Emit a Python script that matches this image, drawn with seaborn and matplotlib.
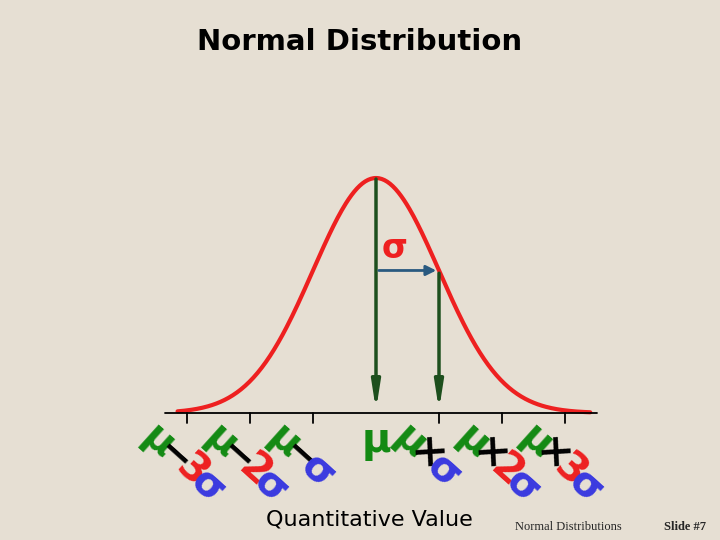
import numpy as np
import matplotlib.pyplot as plt
import matplotlib.transforms as mtransforms
import seaborn as sns

# curve: standard normal, x in sigma units
z = np.linspace(-3.15, 3.4, 300)
dens = np.exp(-z**2 / 2) / np.sqrt(2 * np.pi)
tick_pos = [-3, -2, -1, 1, 2, 3]
label_pos = [-3, -2, -1, 0, 1, 2, 3]
label_ops = ["−", "−", "−", "", "×", "×", "×"]
label_mult = ["3", "2", "", "", "", "2", "3"]

sns.set_style("white")
plt.rcParams['font.family'] = ['DejaVu Sans']
bg = "#e6dfd3"
fig = plt.figure(figsize=(7.2, 5.4), dpi=100, facecolor=bg)
ax = fig.add_axes([0, 0, 1, 1], facecolor=bg)
ax.set_xlim(-376 / 63, (720 - 376) / 63)
ax.set_ylim(-127 / 589, 413 / 589)
ax.axis("off")

sns.lineplot(x=z, y=dens, color="#ee2020", lw=3, ax=ax)

# axis line and ticks
ax.plot([-3.35, 3.5], [0, 0], color="black", lw=1.3)
for t in tick_pos:
    ax.plot([t, t], [0, -0.017], color="black", lw=1.3)

green = "#1d4f1d"
ap = dict(arrowstyle="-|>,head_length=1.6,head_width=0.25", color=green, lw=2.5)
ax.annotate("", xy=(0, 0.0), xytext=(0, dens.max() + 0.003), arrowprops=ap)
y1 = np.exp(-0.5) / np.sqrt(2 * np.pi)
ax.annotate("", xy=(1, 0.0), xytext=(1, y1), arrowprops=ap)
ax.annotate("", xy=(1, y1), xytext=(0, y1),
            arrowprops=dict(arrowstyle="-|>,head_length=0.6,head_width=0.3", color="#2a5a80", lw=2))
ax.text(0.3, y1 + 0.01, "σ", color="#ee2020", fontsize=24, fontweight="bold", ha="center", va="bottom")

# rotated colored tick labels, built piece by piece along a diagonal
step = (12, -10.5)  # points
for p, op, m in zip(label_pos, label_ops, label_mult):
    pieces = [("μ", "#138a13")]
    if op:
        pieces.append((op, "black"))
    if m:
        pieces.append((m, "#ee2020"))
    if op:
        pieces.append(("σ", "#3a3ae0"))
    rot = 0 if not op else -42
    for k, (ch, col) in enumerate(pieces):
        if op:
            dx, dy = -21 + k * step[0], -21 + k * step[1]
        else:
            dx, dy = 0, -20
        tr = ax.transData + mtransforms.ScaledTranslation(dx / 72, dy / 72, fig.dpi_scale_trans)
        ax.text(p, 0, ch, transform=tr, color=col, fontsize=29, fontweight="bold",
                rotation=rot, ha="center", va="center")

fig.text(0.5, 0.922, "Normal Distribution", fontsize=21, fontweight="bold", color="black",
         ha="center", va="center")
fig.text(0.513, 0.038, "Quantitative Value", fontsize=16, color="black", ha="center", va="center")
fig.text(0.79, 0.024, "Normal Distributions", fontsize=9, family="Liberation Serif", ha="center", va="center")
fig.text(0.952, 0.024, "Slide #7", fontsize=9, fontweight="bold", family="Liberation Serif", ha="center", va="center")

fig.savefig("out.png", dpi=100, facecolor=bg)
